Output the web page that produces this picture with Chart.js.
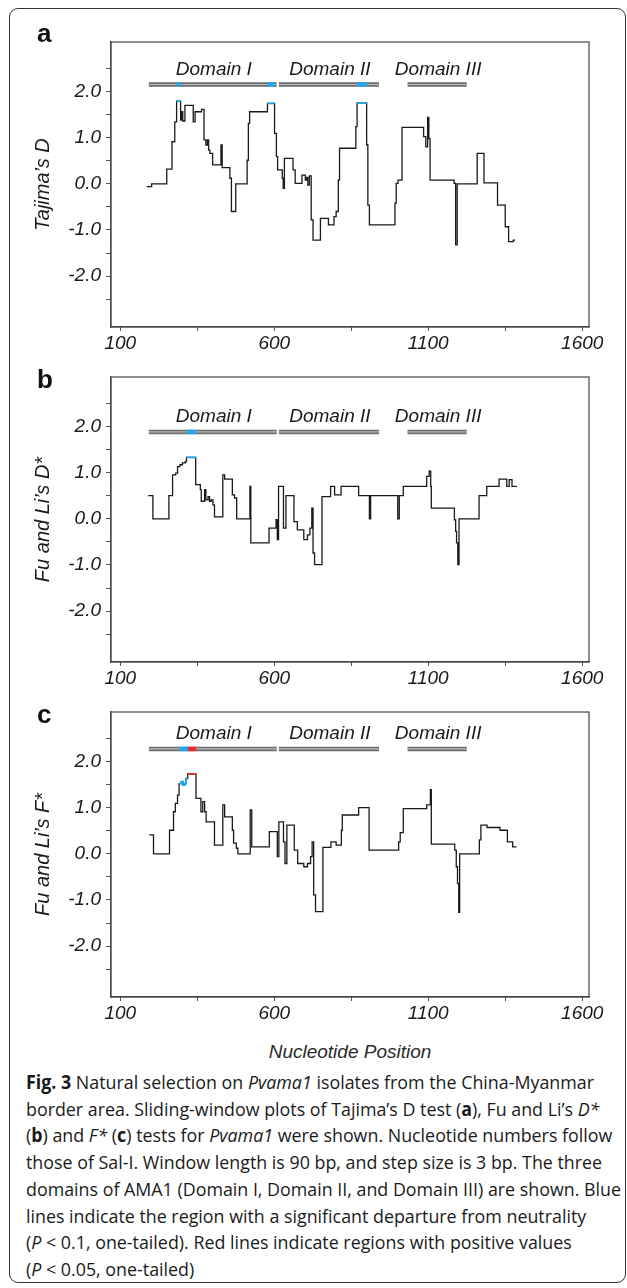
<!DOCTYPE html>
<html>
<head>
<meta charset="utf-8">
<title>Pvama1 sliding-window neutrality tests</title>
<script src="https://cdn.jsdelivr.net/npm/chart.js@4.4.0/dist/chart.umd.min.js"></script>
<style>
  html, body { margin: 0; padding: 0; background: #fff; }
  #fig { position: relative; width: 627px; height: 1288px; overflow: hidden;
         font-family: "Liberation Sans", Arial, sans-serif; color: #1a1a1a; }
  .frame { position: absolute; left: 9px; top: 8px; width: 617px; height: 1275px;
           border: 1.5px solid #333; border-radius: 9px; box-sizing: border-box; }
  .panel { position: absolute; left: 0; width: 627px; }
  .letter { position: absolute; left: 37px; font-weight: bold; font-size: 26px; line-height: 26px; color: #111; }
  .xtitle { position: absolute; left: 0; width: 700px; top: 1041px; text-align: center;
            font-style: italic; font-size: 19px; line-height: 22px; color: #2a2a2a; }
  #caption { position: absolute; left: 26px; top: 1069px; font-family: "Open Sans", sans-serif;
             font-size: 19px; line-height: 26.7px; color: #1a1a1a; transform-origin: 0 0; white-space: nowrap; }
  #caption div { width: max-content; }
</style>
</head>
<body>
<div id="fig">
  <div class="frame"></div>

  <div class="panel" style="top:0;height:360px"><canvas id="chartA"></canvas></div>
  <div class="panel" style="top:360px;height:335px"><canvas id="chartB"></canvas></div>
  <div class="panel" style="top:695px;height:335px"><canvas id="chartC"></canvas></div>

  <div class="letter" style="top:20px">a</div>
  <div class="letter" style="top:366px">b</div>
  <div class="letter" style="top:701px">c</div>

  <div class="xtitle">Nucleotide Position</div>

  <div id="caption">
    <div><b>Fig. 3</b> Natural selection on <i>Pvama1</i> isolates from the China-Myanmar</div>
    <div>border area. Sliding-window plots of Tajima’s D test (<b>a</b>), Fu and Li’s <i>D*</i></div>
    <div>(<b>b</b>) and <i>F*</i> (<b>c</b>) tests for <i>Pvama1</i> were shown. Nucleotide numbers follow</div>
    <div>those of Sal-I. Window length is 90 bp, and step size is 3 bp. The three</div>
    <div>domains of AMA1 (Domain I, Domain II, and Domain III) are shown. Blue</div>
    <div>lines indicate the region with a significant departure from neutrality</div>
    <div>(<i>P</i> &lt; 0.1, one-tailed). Red lines indicate regions with positive values</div>
    <div>(<i>P</i> &lt; 0.05, one-tailed)</div>
  </div>
</div>

<script>
// ─── DATA ────────────────────────────────────────────────────────
// Axis ticks
const xTickValues  = [100, 350, 600, 850, 1100, 1350, 1600];
const xLabelValues = [100, 600, 1100, 1600];
const yTickValues  = [-2.5, -2, -1.5, -1, -0.5, 0, 0.5, 1, 1.5, 2, 2.5];
const yLabelValues = [-2, -1, 0, 1, 2];

// AMA1 domains (nucleotide positions)
const domainNames = ["Domain I", "Domain II", "Domain III"];
const domainStart = [193, 615, 1033];
const domainEnd   = [608, 940, 1225];

// (a) Tajima's D – window start positions and values
const tajimaPos = [186, 202, 251, 268, 277, 283, 296, 299, 303, 310, 337, 343, 364, 372, 378, 383, 387, 391,
  400, 427, 431, 456, 461, 475, 512, 516, 520, 578, 601, 607, 611, 626, 629, 633, 661, 668, 690, 701, 705,
  709, 714, 720, 726, 750, 776, 794, 801, 808, 812, 865, 869, 900, 904, 909, 992, 996, 1002, 1015, 1085,
  1092, 1098, 1102, 1106, 1184, 1189, 1194, 1259, 1281, 1325, 1350, 1361, 1376, 1382];
const tajimaD = [-0.06, 0.0, 0.32, 0.91, 1.34, 1.79, 1.38, 1.56, 1.36, 1.70, 1.34, 1.56, 1.61, 0.95, 0.84, 0.95,
  0.73, 0.66, 0.41, 0.84, 0.35, 0.12, -0.60, 0.0, 0.51, 1.31, 1.56, 1.74, 1.09, 0.59, 0.30, 0.12, -0.10, 0.55,
  0.30, 0.01, 0.19, 0.08, 0.14, -0.03, 0.17, -0.78, -1.22, -0.75, -0.89, -0.71, -0.60, 0.08, 0.77, 1.24, 1.75,
  0.84, -0.46, -0.89, -0.42, 0.01, 0.08, 1.22, 1.02, 0.80, 1.44, 0.98, 0.08, 0.01, -1.32, 0.0, 0.66, 0.02,
  -0.46, -0.93, -1.25, -1.22, -1.22];
const tajimaBlue = [[283, 296], [578, 601], [869, 900]];
const tajimaRed  = [];

// (b) Fu and Li's D*
const fuliDPos = [191, 206, 258, 270, 280, 286, 294, 302, 311, 315, 345, 360, 363, 374, 378, 385, 390, 395,
  401, 406, 433, 439, 464, 471, 478, 521, 524, 583, 606, 610, 614, 630, 638, 664, 675, 696, 708, 716, 722,
  726, 731, 755, 783, 796, 817, 874, 909, 913, 1001, 1006, 1019, 1095, 1103, 1108, 1110, 1185, 1189, 1192,
  1196, 1200, 1265, 1290, 1330, 1355, 1363, 1372, 1388];
const fuliD = [0.50, 0.0, 0.50, 0.95, 0.99, 1.13, 1.17, 1.21, 1.24, 1.33, 0.74, 0.63, 0.38, 0.63, 0.41, 0.48,
  0.38, 0.41, 0.30, 0.04, 0.95, 0.86, 0.52, 0.45, 0.0, 0.70, -0.52, -0.20, -0.02, -0.45, 0.70, -0.20, 0.50,
  -0.06, -0.24, -0.45, -0.35, -0.20, 0.23, -0.74, -0.99, 0.48, 0.70, 0.52, 0.70, 0.50, 0.0, 0.50, 0.0, 0.50,
  0.70, 0.92, 1.03, 0.70, 0.23, -0.02, -0.27, -0.52, -0.99, 0.0, 0.50, 0.70, 0.86, 0.70, 0.85, 0.70, 0.70];
const fuliDBlue = [[315, 345]];
const fuliDRed  = [];

// (c) Fu and Li's F*
const fuliFPos = [194, 208, 260, 273, 279, 286, 291, 298, 304, 309, 314, 319, 346, 362, 368, 374, 379, 406,
  433, 439, 464, 468, 477, 482, 522, 527, 584, 610, 615, 630, 635, 641, 665, 676, 696, 708, 718, 723, 728,
  734, 758, 784, 801, 818, 821, 874, 908, 1004, 1009, 1019, 1095, 1107, 1110, 1186, 1191, 1195, 1199, 1202,
  1266, 1271, 1291, 1333, 1357, 1374, 1387];
const fuliF = [0.41, 0.0, 0.51, 0.91, 1.09, 1.27, 1.52, 1.56, 1.49, 1.52, 1.63, 1.73, 1.20, 0.91, 1.13, 0.91,
  0.69, 0.19, 1.06, 0.80, 0.51, 0.23, 0.12, 0.0, 0.95, 0.15, 0.48, -0.06, 0.69, 0.26, -0.21, 0.62, 0.08,
  -0.21, -0.28, -0.21, -0.06, 0.26, -0.89, -1.25, 0.14, 0.26, 0.19, 0.51, 0.84, 1.0, 0.08, 0.26, 0.46, 0.98,
  1.06, 1.39, 0.21, 0.08, -0.28, -0.64, -1.27, 0.0, 0.30, 0.62, 0.57, 0.51, 0.26, 0.15, 0.15];
const fuliFBlue = [[291, 319]];
const fuliFRed  = [[319, 346]];

// ─── STYLE / LAYOUT ──────────────────────────────────────────────
const FONT   = '"Liberation Sans", Arial, sans-serif';
const BLUE   = "#1fa8ef";
const RED    = "#ee2b37";
const AREA_H = 285;     // plot box height (px)

Chart.defaults.font.family = FONT;
Chart.defaults.color = "#1a1a1a";

const panels = [
  { id: "chartA", height: 360, areaTop: 42, title: "Tajima’s D",     pos: tajimaPos, vals: tajimaD, blue: tajimaBlue, red: tajimaRed, barY: 2.15, labelY: 2.48 },
  { id: "chartB", height: 335, areaTop: 17, title: "Fu and Li’s D*", pos: fuliDPos,  vals: fuliD,   blue: fuliDBlue,  red: fuliDRed,  barY: 1.88, labelY: 2.21 },
  { id: "chartC", height: 335, areaTop: 17, title: "Fu and Li’s F*", pos: fuliFPos,  vals: fuliF,   blue: fuliFBlue,  red: fuliFRed,  barY: 2.27, labelY: 2.61 }
];

// value of the step series at position x
function valueAt(series, x) {
  let v = series[0].y;
  for (const pt of series) {
    if (pt.x <= x) v = pt.y; else break;
  }
  return v;
}

// part of the step series between s and e (for coloured highlights)
function sliceSeries(series, s, e) {
  const pts = [{ x: s, y: valueAt(series, s) }];
  series.forEach(pt => { if (pt.x > s && pt.x < e) pts.push(pt); });
  pts.push({ x: e, y: pts[pts.length - 1].y });
  return pts;
}

function lineSet(data, color, width, order, stepped) {
  return {
    data, order, stepped,
    borderColor: color, borderWidth: width,
    borderCapStyle: "butt", borderJoinStyle: "miter",
    pointRadius: 0, fill: false
  };
}

// domain labels + full box around the plot area
const decorations = {
  id: "decorations",
  afterDatasetsDraw(chart, args, opts) {
    const { ctx, chartArea: a, scales: { x, y } } = chart;
    ctx.save();
    ctx.font = `italic 19px ${FONT}`;
    ctx.fillStyle = "#1a1a1a";
    ctx.textAlign = "center";
    ctx.textBaseline = "middle";
    domainNames.forEach((name, i) => {
      const cx = x.getPixelForValue((domainStart[i] + domainEnd[i]) / 2);
      ctx.fillText(name, cx + 1, y.getPixelForValue(opts.labelY));
    });
    ctx.strokeStyle = "#444";
    ctx.lineWidth = 1.2;
    ctx.strokeRect(a.left, a.top, a.right - a.left, a.bottom - a.top);
    ctx.restore();
  }
};

function makeChart(p) {
  const series = p.pos.map((x, i) => ({ x, y: p.vals[i] }));
  const datasets = [];

  // highlights on the curve
  p.blue.forEach(r => datasets.push(lineSet(sliceSeries(series, r[0], r[1]), BLUE, 1.8, 0, true)));
  p.red.forEach(r  => datasets.push(lineSet(sliceSeries(series, r[0], r[1]), RED, 1.8, 0, true)));

  // highlights on the domain bars
  p.blue.forEach(r => datasets.push(lineSet([{ x: r[0], y: p.barY }, { x: r[1], y: p.barY }], BLUE, 4.5, 0, false)));
  p.red.forEach(r  => datasets.push(lineSet([{ x: r[0], y: p.barY }, { x: r[1], y: p.barY }], RED, 4.5, 0, false)));

  // domain bars (double line look)
  domainStart.forEach((s, i) => {
    const bar = [{ x: s, y: p.barY }, { x: domainEnd[i], y: p.barY }];
    datasets.push(lineSet(bar, "#bcbcbc", 1.2, 1, false));
    datasets.push(lineSet(bar, "#6c6c6c", 4.5, 2, false));
  });

  // main sliding-window curve
  datasets.push(lineSet(series, "#1a1a1a", 1.3, 3, true));

  return new Chart(document.getElementById(p.id), {
    type: "line",
    data: { datasets },
    plugins: [decorations],
    options: {
      responsive: true,
      maintainAspectRatio: false,
      animation: false,
      events: [],
      layout: { padding: { top: p.areaTop, right: 38, left: 0, bottom: 0 } },
      plugins: {
        legend: { display: false },
        tooltip: { enabled: false },
        decorations: { labelY: p.labelY }
      },
      scales: {
        x: {
          type: "linear", min: 70, max: 1622,
          afterBuildTicks: s => { s.ticks = xTickValues.map(v => ({ value: v })); },
          afterFit: s => { s.height = p.height - p.areaTop - AREA_H; },
          ticks: {
            callback: v => xLabelValues.includes(v) ? String(v) : "",
            font: { size: 19, style: "italic" }, color: "#1a1a1a",
            padding: 1, maxRotation: 0, autoSkip: false
          },
          grid: { drawOnChartArea: false, drawTicks: true, tickLength: 4, color: "#555" },
          border: { display: true, color: "#444", width: 1.2 }
        },
        y: {
          min: -3.1, max: 3.07,
          afterBuildTicks: s => { s.ticks = yTickValues.map(v => ({ value: v })); },
          afterFit: s => { s.width = 111; },
          ticks: {
            callback: v => yLabelValues.includes(v) ? v.toFixed(1) : "",
            font: { size: 19, style: "italic" }, color: "#1a1a1a",
            padding: 5, autoSkip: false
          },
          grid: { drawOnChartArea: false, drawTicks: true, tickLength: 5, color: "#555" },
          border: { display: true, color: "#444", width: 1.2 },
          title: {
            display: true, text: p.title, color: "#1a1a1a",
            font: { size: 20, style: "italic" },
            padding: { top: 31, bottom: 0 }
          }
        }
      }
    }
  });
}

panels.forEach(makeChart);

// squeeze caption to the width of the original's condensed type
const caption = document.getElementById("caption");
const firstLine = caption.firstElementChild;
caption.style.transform = `scaleX(${568 / firstLine.getBoundingClientRect().width})`;
</script>
</body>
</html>
